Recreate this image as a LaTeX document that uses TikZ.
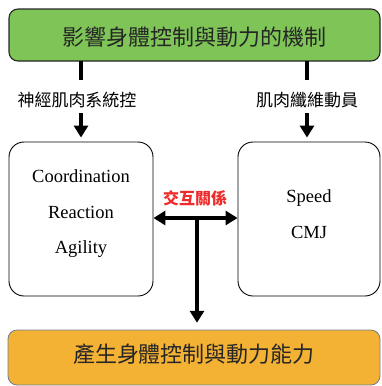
\documentclass[tikz,border=0pt]{standalone}
\usepackage{fontspec}
\setmainfont{Liberation Serif}
\newfontfamily\cjk{Noto Sans CJK TC}
\usetikzlibrary{arrows.meta,calc}
\definecolor{topgreen}{RGB}{126,196,86}
\definecolor{botorange}{RGB}{244,178,52}
\definecolor{botedge}{RGB}{110,125,150}
\definecolor{linkred}{RGB}{238,42,42}
\tikzset{
  x=1pt, y=-1pt,
  banner/.style={rounded corners=9pt, line width=1.1pt, inner sep=0pt},
  factorbox/.style={draw=black, line width=0.9pt, rounded corners=15pt, fill=white, inner sep=0pt},
  cjklabel/.style={font=\cjk\fontsize{17pt}{20pt}\selectfont, inner sep=0pt},
  latintext/.style={font=\fontsize{18.5pt}{35.5pt}\selectfont, align=center, inner sep=0pt},
  bar/.style={line width=4pt},
  arr/.style={line width=4pt, -{Triangle[length=12pt,width=14pt]}},
  darr/.style={line width=4pt, {Triangle[length=12pt,width=14pt]}-{Triangle[length=12pt,width=14pt]}},
}
\begin{document}
\begin{tikzpicture}
\useasboundingbox (0,0) rectangle (381,386);

% top banner: mechanisms
\draw[banner, fill=topgreen, draw=black!85] (9,9) rectangle (380,61);
\node[inner sep=0pt, minimum width=371pt, minimum height=52pt] (top) at (194.5,35) {};
\node[font=\cjk\fontsize{22pt}{26pt}\selectfont, text=black!85, inner sep=0pt] (toptext) at (194.5,37) {影響身體控制與動力的機制};

% bottom banner: resulting ability
\draw[banner, fill=botorange, draw=botedge, line width=0.8pt] (8,330) rectangle (380,385);
\node[inner sep=0pt, minimum width=372pt, minimum height=55pt] (bottom) at (194,357.5) {};
\node[font=\cjk\fontsize{22pt}{26pt}\selectfont, text=black!85, inner sep=0pt] (bottext) at (194,354) {產生身體控制與動力能力};

% factor boxes
\node[factorbox, minimum width=144pt, minimum height=154pt] (boxL) at (81,219) {};
\node[factorbox, minimum width=142pt, minimum height=154pt] (boxR) at (309,219) {};
\node[latintext] (txtL) at ([yshift=5pt]boxL.center) {Coordination\\Reaction\\Agility};
\node[latintext] (txtR) at ([yshift=5pt]boxR.center) {Speed\\CMJ};

% pathway labels
\node[cjklabel] (lblL) at (77,100) {神經肌肉系統控};
\node[cjklabel] (lblR) at (307,100) {肌肉纖維動員};

% connector end points around the labels
\coordinate (lUp) at (81,80);
\coordinate (lDn) at (81,113);
\coordinate (rUp) at (307,80);
\coordinate (rDn) at (307,113);

\draw[bar] (top.south -| lUp) -- (lUp);
\draw[bar] (top.south -| rUp) -- (rUp);
\draw[arr, shorten >=4pt] (lDn) -- (boxL.north -| lDn);
\draw[arr, shorten >=4pt] (rDn) -- (boxR.north -| rDn);

% interaction between the two boxes
\coordinate (mid) at (197,218);
\draw[darr] (boxL.east |- mid) -- (boxR.west |- mid);
\node[font=\cjk\bfseries\fontsize{16pt}{19pt}\selectfont, text=linkred, inner sep=0pt] (link) at (195,198) {交互關係};
\draw[arr, shorten >=7pt] (mid) -- (bottom.north -| mid);
\end{tikzpicture}
\end{document}
